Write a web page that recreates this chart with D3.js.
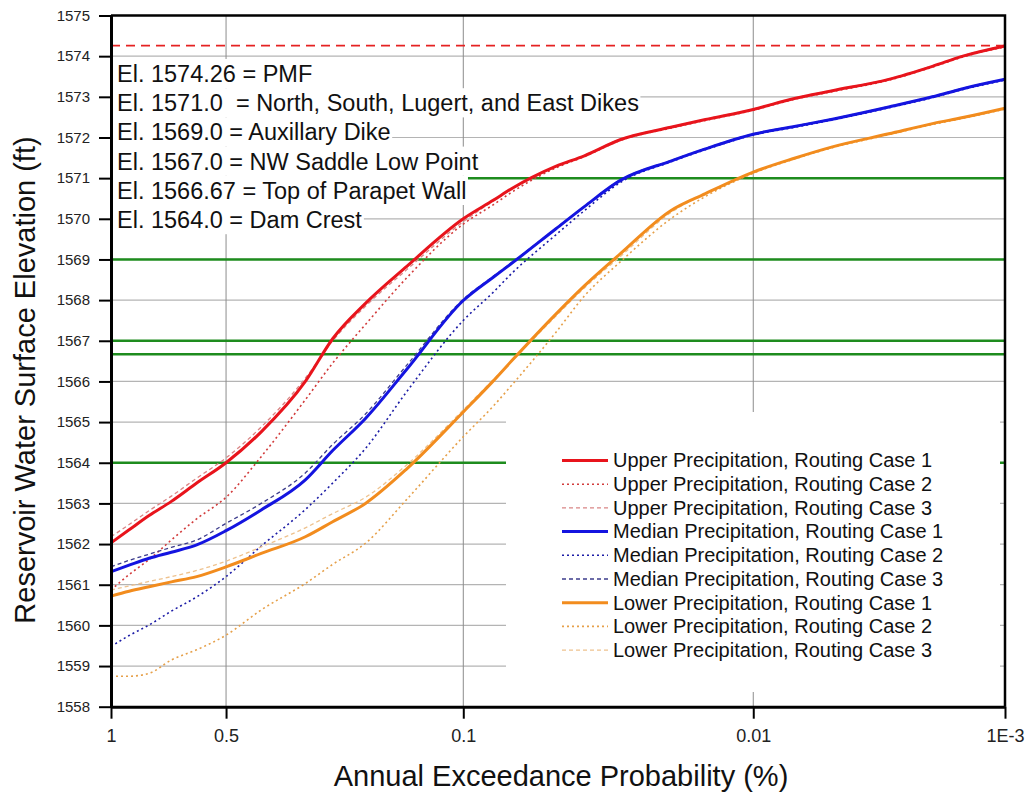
<!DOCTYPE html>
<html>
<head>
<meta charset="utf-8">
<script src="https://cdn.jsdelivr.net/npm/d3@7"></script>
<style>
  body { margin: 0; background: #fff; }
  svg { display: block; font-family: "Liberation Sans", Arial, sans-serif; }
</style>
</head>
<body>
<svg id="chart" width="1033" height="797"></svg>
<script>
// annual exceedance probability (%) where the curves were read
const aep = [1, 0.9, 0.8, 0.7, 0.6, 0.5, 0.4, 0.3, 0.25, 0.2, 0.15, 0.1, 0.08, 0.07, 0.05, 0.04, 0.03, 0.02, 0.015, 0.01, 0.007, 0.005, 0.003, 0.002, 0.0015, 0.001];

// reservoir elevation (ft) for each series, same order as aep
const upper1  = [1562.03, 1562.35, 1562.70, 1563.05, 1563.50, 1564.00, 1564.76, 1566.00, 1567.05, 1567.92, 1568.83, 1570.00, 1570.46, 1570.74, 1571.29, 1571.55, 1571.95, 1572.25, 1572.44, 1572.69, 1572.96, 1573.15, 1573.43, 1573.75, 1574.00, 1574.25];
const upper2  = [1560.87, 1561.25, 1561.62, 1562.10, 1562.62, 1563.15, 1564.15, 1565.55, 1566.45, 1567.40, 1568.55, 1569.87, 1570.35, 1570.65, 1571.25, 1571.53, 1571.93, 1572.23, 1572.42, 1572.67, 1572.94, 1573.13, 1573.41, 1573.73, 1573.98, 1574.23];
const upper3  = [1562.18, 1562.48, 1562.82, 1563.18, 1563.62, 1564.12, 1564.88, 1566.08, 1567.00, 1567.85, 1568.75, 1569.93, 1570.44, 1570.72, 1571.28, 1571.56, 1571.96, 1572.26, 1572.45, 1572.70, 1572.97, 1573.16, 1573.44, 1573.76, 1574.01, 1574.26];
const median1 = [1561.32, 1561.48, 1561.65, 1561.80, 1561.98, 1562.33, 1562.84, 1563.58, 1564.30, 1565.09, 1566.30, 1567.99, 1568.57, 1568.90, 1569.75, 1570.30, 1570.95, 1571.42, 1571.72, 1572.08, 1572.27, 1572.45, 1572.75, 1573.00, 1573.20, 1573.43];
const median2 = [1559.48, 1559.75, 1560.01, 1560.35, 1560.70, 1561.20, 1561.95, 1562.85, 1563.50, 1564.35, 1565.75, 1567.50, 1568.20, 1568.65, 1569.60, 1570.20, 1570.90, 1571.40, 1571.70, 1572.06, 1572.25, 1572.43, 1572.73, 1572.98, 1573.18, 1573.41];
const median3 = [1561.44, 1561.60, 1561.75, 1561.92, 1562.10, 1562.51, 1563.00, 1563.75, 1564.45, 1565.20, 1566.40, 1568.02, 1568.59, 1568.92, 1569.76, 1570.31, 1570.96, 1571.43, 1571.73, 1572.09, 1572.28, 1572.46, 1572.76, 1573.01, 1573.21, 1573.44];
const lower1  = [1560.72, 1560.84, 1560.95, 1561.07, 1561.20, 1561.44, 1561.77, 1562.18, 1562.55, 1563.00, 1563.85, 1565.25, 1566.02, 1566.50, 1567.65, 1568.35, 1569.15, 1570.20, 1570.62, 1571.15, 1571.49, 1571.77, 1572.09, 1572.34, 1572.49, 1572.72];
const lower2  = [1558.75, 1558.75, 1558.82, 1559.15, 1559.40, 1559.76, 1560.38, 1561.03, 1561.50, 1562.02, 1563.10, 1564.64, 1565.40, 1565.90, 1567.20, 1568.10, 1568.95, 1570.00, 1570.55, 1571.12, 1571.47, 1571.75, 1572.07, 1572.32, 1572.47, 1572.70];
const lower3  = [1560.87, 1560.97, 1561.08, 1561.20, 1561.35, 1561.58, 1561.93, 1562.40, 1562.75, 1563.15, 1563.95, 1565.30, 1566.05, 1566.50, 1567.60, 1568.30, 1569.08, 1570.15, 1570.62, 1571.14, 1571.48, 1571.76, 1572.08, 1572.33, 1572.48, 1572.71];

const seriesNames = [
  "Upper Precipitation, Routing Case 1", "Upper Precipitation, Routing Case 2", "Upper Precipitation, Routing Case 3",
  "Median Precipitation, Routing Case 1", "Median Precipitation, Routing Case 2", "Median Precipitation, Routing Case 3",
  "Lower Precipitation, Routing Case 1", "Lower Precipitation, Routing Case 2", "Lower Precipitation, Routing Case 3"
];

const xTicks = [1, 0.5, 0.1, 0.01, 0.001];
const xTickLabels = ["1", "0.5", "0.1", "0.01", "1E-3"];
const yTicks = d3.range(1558, 1576);

// critical elevations (ft)
const pmf = 1574.26;
const levels = [1571.0, 1569.0, 1567.0, 1566.67, 1564.0];
const levelNotes = [
  "El. 1574.26 = PMF",
  "El. 1571.0  = North, South, Lugert, and East Dikes",
  "El. 1569.0 = Auxillary Dike",
  "El. 1567.0 = NW Saddle Low Point",
  "El. 1566.67 = Top of Parapet Wall",
  "El. 1564.0 = Dam Crest"
];

// styles, kept apart from the values
const series = [
  { values: upper1,  color: "#e8141c", width: 3,   dash: null },
  { values: upper2,  color: "#d23c3c", width: 1.6, dash: "2,3" },
  { values: upper3,  color: "#d98585", width: 1.3, dash: "4,3" },
  { values: median1, color: "#1414e0", width: 3,   dash: null },
  { values: median2, color: "#1c1ca6", width: 1.6, dash: "2,3" },
  { values: median3, color: "#3c3c8c", width: 1.3, dash: "4,3" },
  { values: lower1,  color: "#f28c1e", width: 3,   dash: null },
  { values: lower2,  color: "#e6a04a", width: 1.6, dash: "2,3" },
  { values: lower3,  color: "#eec28e", width: 1.3, dash: "4,3" }
];
series.forEach((s, i) => s.name = seriesNames[i]);

// inverse standard normal (Acklam), used for the probability-paper x axis
function invNorm(p) {
  const a = [-3.969683028665376e+01, 2.209460984245205e+02, -2.759285104469687e+02, 1.383577518672690e+02, -3.066479806614716e+01, 2.506628277459239e+00];
  const b = [-5.447609879822406e+01, 1.615858368580409e+02, -1.556989798598866e+02, 6.680131188771972e+01, -1.328068155288572e+01];
  const c = [-7.784894002430293e-03, -3.223964580411365e-01, -2.400758277161838e+00, -2.549671010229583e+00, 4.374664141464968e+00, 2.938163982698783e+00];
  const d = [7.784695709041462e-03, 3.224671290700398e-01, 2.445134137142996e+00, 3.754408661907416e+00];
  const plow = 0.02425;
  let q, r;
  if (p < plow) {
    q = Math.sqrt(-2 * Math.log(p));
    return (((((c[0]*q+c[1])*q+c[2])*q+c[3])*q+c[4])*q+c[5]) / ((((d[0]*q+d[1])*q+d[2])*q+d[3])*q+1);
  }
  if (p <= 1 - plow) {
    q = p - 0.5; r = q * q;
    return (((((a[0]*r+a[1])*r+a[2])*r+a[3])*r+a[4])*r+a[5])*q / (((((b[0]*r+b[1])*r+b[2])*r+b[3])*r+b[4])*r+1);
  }
  q = Math.sqrt(-2 * Math.log(1 - p));
  return -(((((c[0]*q+c[1])*q+c[2])*q+c[3])*q+c[4])*q+c[5]) / ((((d[0]*q+d[1])*q+d[2])*q+d[3])*q+1);
}
const zOf = pct => -invNorm(pct / 100);

const svg = d3.select("#chart");
const margin = { left: 111, top: 15.5, right: 28, bottom: 90.3 };
const W = +svg.attr("width"), H = +svg.attr("height");

const x = d3.scaleLinear().domain([zOf(1), zOf(0.001)]).range([margin.left, W - margin.right]);
const y = d3.scaleLinear().domain([1558, 1575]).range([H - margin.bottom, margin.top]);
const px = p => x(zOf(p));

// grid
svg.append("g").selectAll("line").data(yTicks.slice(1, -1)).enter().append("line")
  .attr("x1", x.range()[0]).attr("x2", x.range()[1])
  .attr("y1", d => y(d)).attr("y2", d => y(d))
  .attr("stroke", "#b4b4b4").attr("stroke-width", 1.2);
svg.append("g").selectAll("line").data([0.5, 0.1, 0.01]).enter().append("line")
  .attr("x1", d => px(d)).attr("x2", d => px(d))
  .attr("y1", y.range()[0]).attr("y2", y.range()[1])
  .attr("stroke", "#8c8c8c").attr("stroke-width", 1);

// critical levels
svg.append("line")
  .attr("x1", x.range()[0]).attr("x2", x.range()[1])
  .attr("y1", y(pmf)).attr("y2", y(pmf))
  .attr("stroke", "#e52222").attr("stroke-width", 1.6).attr("stroke-dasharray", "9,6");
svg.append("g").selectAll("line").data(levels).enter().append("line")
  .attr("x1", x.range()[0]).attr("x2", x.range()[1])
  .attr("y1", d => y(d)).attr("y2", d => y(d))
  .attr("stroke", "#1e8c1e").attr("stroke-width", 2.5);

// notes, each line on its own white box
const notes = svg.append("g");
levelNotes.forEach((t, i) => {
  const g = notes.append("g");
  const rect = g.append("rect").attr("fill", "#fff");
  const txt = g.append("text")
    .attr("x", 117).attr("y", 82 + i * 29.2)
    .style("font-size", "23.5px").style("white-space", "pre")
    .attr("fill", "#111").text(t);
  const bb = txt.node().getBBox();
  rect.attr("x", x.range()[0] + 1.5).attr("y", 82 + i * 29.2 - 23)
    .attr("width", bb.x + bb.width - x.range()[0]).attr("height", 29.2);
});

// legend box
const legend = svg.append("g");
legend.append("rect").attr("x", 506).attr("y", 412).attr("width", 494).attr("height", 280).attr("fill", "#fff");

// curves
const line = d3.line().x((d, i) => px(aep[i])).y(d => y(d)).curve(d3.curveMonotoneX);
const drawOrder = [2, 1, 0, 5, 4, 3, 8, 7, 6];
svg.append("g").selectAll("path").data(drawOrder.map(i => series[i])).enter().append("path")
  .attr("d", d => line(d.values))
  .attr("fill", "none")
  .attr("stroke", d => d.color)
  .attr("stroke-width", d => d.width)
  .attr("stroke-dasharray", d => d.dash)
  .attr("stroke-linejoin", "round");

// legend entries
const rows = legend.selectAll("g.row").data(series).enter().append("g").attr("class", "row")
  .attr("transform", (d, i) => `translate(0,${460.5 + i * 23.7})`);
rows.append("line").attr("x1", 562).attr("x2", 608).attr("y1", 0).attr("y2", 0)
  .attr("stroke", d => d.color).attr("stroke-width", d => d.width)
  .attr("stroke-dasharray", d => d.dash);
rows.append("text").attr("x", 613).attr("y", 6.8)
  .style("font-size", "20px").attr("fill", "#111").text(d => d.name);

// axes
const yAxis = svg.append("g").attr("transform", `translate(${margin.left},0)`)
  .call(d3.axisLeft(y).tickValues(yTicks).tickFormat(d3.format("d")).tickSize(12).tickSizeOuter(0).tickPadding(9));
const xAxis = svg.append("g").attr("transform", `translate(0,${H - margin.bottom})`)
  .call(d3.axisBottom(x).tickValues(xTicks.map(zOf)).tickFormat((d, i) => xTickLabels[i]).tickSize(12).tickSizeOuter(0).tickPadding(11));
[yAxis, xAxis].forEach(a => {
  a.select(".domain").attr("stroke", "#000").attr("stroke-width", 3);
  a.selectAll(".tick line").attr("stroke", "#000").attr("stroke-width", 2);
  a.selectAll(".tick text").attr("fill", "#222").style("font-family", "\"Liberation Sans\", Arial, sans-serif");
});
yAxis.selectAll(".tick text").style("font-size", "15px");
xAxis.selectAll(".tick text").style("font-size", "18px");

// frame top and right
svg.append("path")
  .attr("d", `M${x.range()[0]},${y.range()[1]}H${x.range()[1]}V${y.range()[0]}`)
  .attr("fill", "none").attr("stroke", "#000").attr("stroke-width", 2.5);

// titles
svg.append("text")
  .attr("x", 561).attr("y", 786)
  .attr("text-anchor", "middle").style("font-size", "29px").attr("fill", "#111")
  .text("Annual Exceedance Probability (%)");
svg.append("text")
  .attr("transform", "translate(35,380) rotate(-90)")
  .attr("text-anchor", "middle").style("font-size", "29px").attr("fill", "#111")
  .text("Reservoir Water Surface Elevation (ft)");
</script>
</body>
</html>
